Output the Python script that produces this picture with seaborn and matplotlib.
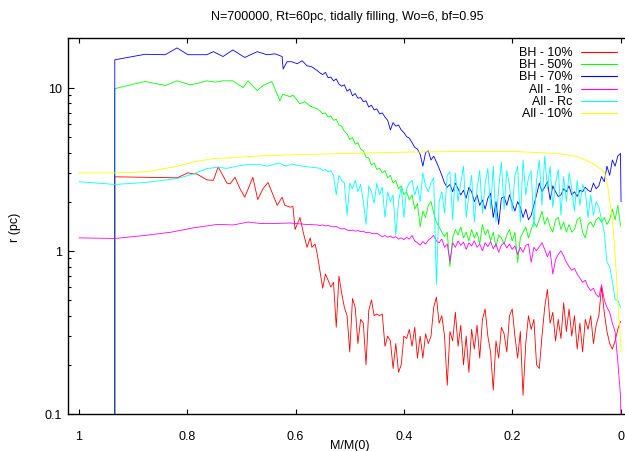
import numpy as np
import pandas as pd
import matplotlib
matplotlib.use("Agg")
import matplotlib.pyplot as plt
import seaborn as sns
from matplotlib.ticker import FixedLocator, LogLocator, NullFormatter, NullLocator

# ---- data (x = M/M(0), y = r in pc) ----
# common sampling of the noisy late part, x from 0.555 down to 0
m_grid = np.linspace(0.555, 0.0, 112)

red_early_m = [0.934, 0.934, 0.819, 0.799, 0.782, 0.764, 0.752, 0.743, 0.727, 0.721,
               0.712, 0.703, 0.694, 0.679, 0.670, 0.660, 0.651, 0.634, 0.625, 0.620,
               0.610, 0.605, 0.601, 0.592, 0.586, 0.579, 0.573, 0.570, 0.564, 0.560]
red_early_r = [0.01, 2.84, 2.80, 3.00, 2.95, 2.72, 2.70, 3.27, 2.60, 2.57,
               2.82, 2.41, 2.13, 2.82, 2.06, 2.41, 2.62, 1.90, 2.13, 1.90,
               1.85, 1.87, 1.35, 1.60, 1.30, 1.05, 1.20, 1.05, 1.10, 0.95]
red_late_r = [0.75, 0.59, 0.72, 0.66, 0.60, 0.64, 0.34, 0.70, 0.55, 0.45,
              0.40, 0.24, 0.51, 0.45, 0.27, 0.38, 0.36, 0.20, 0.43, 0.50,
              0.40, 0.41, 0.40, 0.41, 0.26, 0.30, 0.28, 0.19, 0.27, 0.18,
              0.20, 0.30, 0.29, 0.33, 0.26, 0.34, 0.22, 0.30, 0.22, 0.31,
              0.27, 0.30, 0.45, 0.52, 0.36, 0.40, 0.30, 0.15, 0.32, 0.28,
              0.42, 0.26, 0.35, 0.20, 0.30, 0.18, 0.33, 0.25, 0.35, 0.22,
              0.38, 0.44, 0.30, 0.24, 0.14, 0.28, 0.22, 0.34, 0.31, 0.24,
              0.40, 0.44, 0.30, 0.22, 0.32, 0.13, 0.27, 0.40, 0.33, 0.38,
              0.20, 0.19, 0.30, 0.45, 0.58, 0.36, 0.42, 0.28, 0.38, 0.29,
              0.48, 0.32, 0.44, 0.30, 0.40, 0.25, 0.36, 0.24, 0.38, 0.33,
              0.40, 0.27, 0.35, 0.40, 0.60, 0.42, 0.32, 0.27, 0.25, 0.28, 0.33, 0.37]

green_early_m = [0.934, 0.934, 0.878, 0.841, 0.819, 0.795, 0.782, 0.764, 0.749, 0.734,
                 0.716, 0.697, 0.688, 0.671, 0.660, 0.644, 0.629, 0.624, 0.610, 0.605,
                 0.592, 0.583, 0.573, 0.560]
green_early_r = [0.01, 9.85, 10.9, 10.3, 11.0, 10.4, 10.6, 11.0, 10.8, 11.0,
                 11.0, 10.0, 11.0, 9.6, 10.3, 10.9, 8.3, 9.1, 8.8, 9.0,
                 7.95, 8.2, 7.7, 7.4]
green_late_r = [7.2, 6.9, 7.0, 6.6, 6.7, 6.3, 6.4, 5.9, 5.8, 5.4,
                5.2, 4.8, 4.95, 4.5, 4.6, 4.2, 4.1, 3.75, 3.7, 3.35,
                3.45, 3.15, 3.2, 3.0, 3.1, 2.8, 2.9, 2.6, 2.7, 2.4,
                2.5, 2.2, 2.3, 2.05, 2.2, 1.8, 1.95, 1.4, 1.75, 1.6,
                1.9, 2.0, 1.7, 1.5, 1.4, 1.3, 1.22, 1.3, 0.8, 1.2,
                1.35, 1.25, 1.4, 1.2, 1.3, 1.15, 1.35, 1.2, 1.3, 1.1,
                1.45, 1.25, 1.35, 1.15, 1.3, 1.05, 1.25, 1.2, 1.1, 1.25,
                1.35, 1.15, 1.3, 0.85, 1.2, 1.3, 1.4, 1.2, 1.35, 1.5,
                1.4, 1.55, 1.75, 1.45, 1.6, 1.4, 1.3, 1.55, 1.6, 1.35,
                1.5, 1.3, 1.45, 1.3, 1.35, 1.55, 1.6, 1.3, 1.2, 1.45,
                1.5, 1.4, 1.55, 1.6, 1.5, 1.6, 1.45, 1.55, 1.8, 1.55, 1.9, 1.42]

blue_early_m = [0.934, 0.934, 0.878, 0.841, 0.819, 0.799, 0.764, 0.752, 0.734, 0.716,
                0.694, 0.671, 0.653, 0.638, 0.625, 0.623, 0.616, 0.607, 0.597, 0.588,
                0.579, 0.570, 0.560]
blue_early_r = [0.01, 14.8, 16.0, 15.9, 17.5, 15.9, 15.9, 16.6, 15.5, 17.0,
                15.3, 16.6, 15.9, 16.1, 15.5, 13.0, 14.4, 14.4, 14.0, 14.6,
                13.6, 13.4, 12.7]
blue_late_r = [12.3, 12.0, 12.4, 11.5, 11.6, 11.0, 11.3, 10.5, 10.2, 10.4,
               9.5, 9.8, 8.9, 9.2, 8.6, 8.7, 8.2, 8.3, 7.6, 7.8,
               7.3, 7.4, 6.9, 7.0, 6.6, 6.3, 5.5, 6.1, 5.8, 5.9,
               5.5, 5.3, 5.0, 4.9, 4.6, 4.3, 4.2, 3.9, 3.3, 4.0,
               4.1, 3.6, 3.8, 3.5, 3.2, 2.9, 2.6, 2.45, 2.55, 2.3,
               2.6, 2.4, 2.2, 2.35, 2.1, 2.45, 2.3, 2.0, 2.2, 1.9,
               2.05, 1.8, 2.1, 2.25, 1.6, 2.0, 1.45, 2.1, 2.15, 1.9,
               2.2, 1.95, 1.75, 2.0, 1.85, 1.6, 1.8, 1.55, 1.65, 1.9,
               2.2, 2.6, 2.3, 2.45, 2.65, 2.05, 2.5, 2.3, 2.15, 2.2,
               2.4, 2.3, 2.5, 2.2, 2.3, 2.15, 2.35, 2.3, 2.45, 2.35,
               2.3, 2.6, 2.4, 2.5, 2.85, 2.65, 3.3, 2.9, 3.6, 3.3, 3.8, 3.95]
blue_tail_m = [-0.001]
blue_tail_r = [2.0]

magenta_early_m = [1.0, 0.934, 0.880, 0.830, 0.790, 0.745, 0.715, 0.688, 0.665, 0.640,
                   0.610, 0.580, 0.560]
magenta_early_r = [1.20, 1.19, 1.24, 1.30, 1.38, 1.45, 1.44, 1.50, 1.47, 1.47,
                   1.48, 1.45, 1.44]
magenta_late_r = [1.43, 1.44, 1.42, 1.43, 1.41, 1.40, 1.41, 1.38, 1.36, 1.37,
                  1.34, 1.33, 1.34, 1.32, 1.33, 1.31, 1.32, 1.29, 1.30, 1.28,
                  1.27, 1.28, 1.25, 1.22, 1.24, 1.21, 1.23, 1.20, 1.22, 1.18,
                  1.20, 1.17, 1.21, 1.18, 1.24, 1.15, 1.12, 1.08, 1.14, 1.10,
                  1.16, 1.20, 1.24, 1.15, 1.12, 1.18, 1.05, 1.10, 0.86, 1.12,
                  1.05, 1.15, 1.08, 1.13, 1.02, 1.12, 1.07, 1.15, 1.05, 1.10,
                  1.00, 1.12, 1.06, 1.14, 1.03, 1.10, 0.98, 1.08, 1.12, 1.04,
                  1.10, 1.02, 1.07, 0.95, 1.05, 0.98, 1.08, 1.10, 0.85, 1.05,
                  1.00, 1.06, 1.12, 1.02, 0.92, 1.00, 0.72, 0.88, 0.95, 1.00,
                  0.93, 0.85, 0.80, 0.76, 0.78, 0.72, 0.68, 0.64, 0.66, 0.60,
                  0.57, 0.59, 0.54, 0.52, 0.62, 0.50, 0.45, 0.42, 0.36, 0.32, 0.21, 0.13]
magenta_tail_m = [-0.001]
magenta_tail_r = [0.09]

cyan_early_m = [1.0, 0.934, 0.878, 0.819, 0.790, 0.764, 0.744, 0.727, 0.708, 0.690,
                0.666, 0.652, 0.631, 0.618, 0.607, 0.588, 0.570, 0.560]
cyan_early_r = [2.65, 2.55, 2.62, 2.77, 2.95, 3.19, 3.25, 3.20, 3.30, 3.37,
                3.37, 3.30, 3.45, 3.30, 3.40, 3.30, 3.25, 3.22]
cyan_late_r = [3.2, 3.1, 3.15, 3.05, 3.1, 2.9, 2.2, 2.9, 2.7, 2.6,
               1.65, 2.6, 2.4, 2.7, 2.3, 2.55, 2.0, 1.45, 2.5, 2.3,
               1.95, 2.6, 2.2, 2.45, 1.6, 2.3, 2.0, 2.2, 1.25, 2.0,
               2.45, 1.6, 2.4, 2.6, 2.7, 2.2, 2.5, 2.0, 3.0, 2.5,
               2.3, 2.6, 2.8, 0.62, 2.0, 2.3, 1.7, 2.9, 3.05, 1.55,
               3.0, 2.0, 2.6, 3.3, 1.6, 2.2, 2.9, 1.5, 2.4, 3.1,
               1.7, 2.6, 3.2, 1.8, 3.3, 1.5, 2.4, 3.5, 1.8, 3.1,
               2.5, 1.75, 2.9, 3.3, 1.5, 3.6, 2.2, 2.8, 3.1, 1.4,
               2.7, 3.6, 1.9, 3.8, 2.4, 3.3, 1.85, 2.6, 3.15, 1.65,
               2.85, 2.0, 3.0, 2.4, 1.75, 2.7, 1.9, 2.55, 2.3, 1.6,
               2.2, 1.65, 2.0, 1.85, 1.55, 1.3, 0.85, 0.8, 0.65, 0.5, 0.5, 0.45]

yellow_m = [1.0, 0.934, 0.873, 0.818, 0.789, 0.752, 0.715, 0.665, 0.600, 0.500,
            0.400, 0.300, 0.200, 0.150, 0.110, 0.080, 0.050, 0.038, 0.029, 0.023,
            0.016, 0.012, 0.008, 0.0046, 0.0009, -0.001]
yellow_r = [3.0, 3.0, 3.05, 3.3, 3.5, 3.67, 3.72, 3.82, 3.88, 3.95,
            4.02, 4.06, 4.06, 4.0, 3.92, 3.78, 3.42, 3.19, 3.0, 2.4,
            1.64, 1.19, 0.75, 0.46, 0.32, 0.24]

series_names = ["BH - 10%", "BH - 50%", "BH - 70%", "All - 1%", "All - Rc", "All - 10%"]
series_colors = ["#ff0000", "#00ff00", "#0000ff", "#ff00ff", "#00ffff", "#ffff00"]

x_ticks = [1.0, 0.8, 0.6, 0.4, 0.2, 0.0]
x_tick_labels = ["1", "0.8", "0.6", "0.4", "0.2", "0"]
y_ticks = [0.1, 1, 10]
y_tick_labels = ["0.1", "1", "10"]


def build(name, parts_m, parts_r):
    m = np.concatenate([np.asarray(p, dtype=float) for p in parts_m])
    r = np.concatenate([np.asarray(p, dtype=float) for p in parts_r])
    return pd.DataFrame({"m": m, "r": r, "series": name})


frames = [
    build("BH - 10%", [red_early_m, m_grid], [red_early_r, red_late_r]),
    build("BH - 50%", [green_early_m, m_grid], [green_early_r, green_late_r]),
    build("BH - 70%", [blue_early_m, m_grid, blue_tail_m], [blue_early_r, blue_late_r, blue_tail_r]),
    build("All - 1%", [magenta_early_m, m_grid, magenta_tail_m],
          [magenta_early_r, magenta_late_r, magenta_tail_r]),
    build("All - Rc", [cyan_early_m, m_grid], [cyan_early_r, cyan_late_r]),
    build("All - 10%", [yellow_m], [yellow_r]),
]
df = pd.concat(frames, ignore_index=True)

# ---- style ----
sns.set_theme(style="white", rc={
    "axes.edgecolor": "black",
    "text.color": "black",
    "axes.labelcolor": "black",
    "xtick.color": "black",
    "ytick.color": "black",
})
plt.rcParams['font.family'] = ['Liberation Sans', 'DejaVu Sans']

fig = plt.figure(figsize=(6.25, 4.52), dpi=100)
ax = fig.add_axes([0.1083, 0.0819, 0.8949, 0.8308])

palette = dict(zip(series_names, series_colors))
sns.lineplot(data=df, x="m", y="r", hue="series", hue_order=series_names,
             palette=palette, estimator=None, sort=False, linewidth=0.6,
             legend=False, ax=ax)

ax.set_yscale("log")
ax.set_xlim(1.021, -0.012)
ax.set_ylim(0.1, 20)

ax.xaxis.set_major_locator(FixedLocator(x_ticks))
ax.set_xticklabels(x_tick_labels)
ax.xaxis.set_minor_locator(NullLocator())
ax.yaxis.set_major_locator(FixedLocator(y_ticks))
ax.set_yticklabels(y_tick_labels)
ax.yaxis.set_minor_locator(LogLocator(base=10, subs=np.arange(2, 10)))
ax.yaxis.set_minor_formatter(NullFormatter())

# the right frame edge is cropped away in the reference
ax.tick_params(axis="both", which="both", direction="in", top=True, right=False,
               bottom=True, left=True, labelsize=9, width=0.8)
ax.tick_params(axis="y", which="major", length=4.5, pad=4)
ax.tick_params(axis="y", which="minor", length=2.4)
ax.tick_params(axis="x", which="major", length=3.8, pad=11.5)

for sp in ax.spines.values():
    sp.set_linewidth(1.0)
    sp.set_color("black")

ax.set_xlabel("M/M(0)", fontsize=9)
ax.xaxis.set_label_coords(0.505, -0.066)
ax.set_ylabel("r (pc)", fontsize=9)
ax.yaxis.set_label_coords(-0.083, 0.5)

ax.set_title("N=700000, Rt=60pc, tidally filling, Wo=6, bf=0.95", fontsize=9, pad=14)

# gnuplot-style key: right-aligned labels, samples to the right
for k, (name, col) in enumerate(zip(series_names, series_colors)):
    yk = 0.965 - 0.0328 * k
    ax.text(0.903, yk, name, transform=ax.transAxes, ha="right", va="center", fontsize=9)
    ax.plot([0.918, 0.982], [yk, yk], transform=ax.transAxes, color=col, linewidth=0.8)

fig.savefig("out.png", dpi=100)
